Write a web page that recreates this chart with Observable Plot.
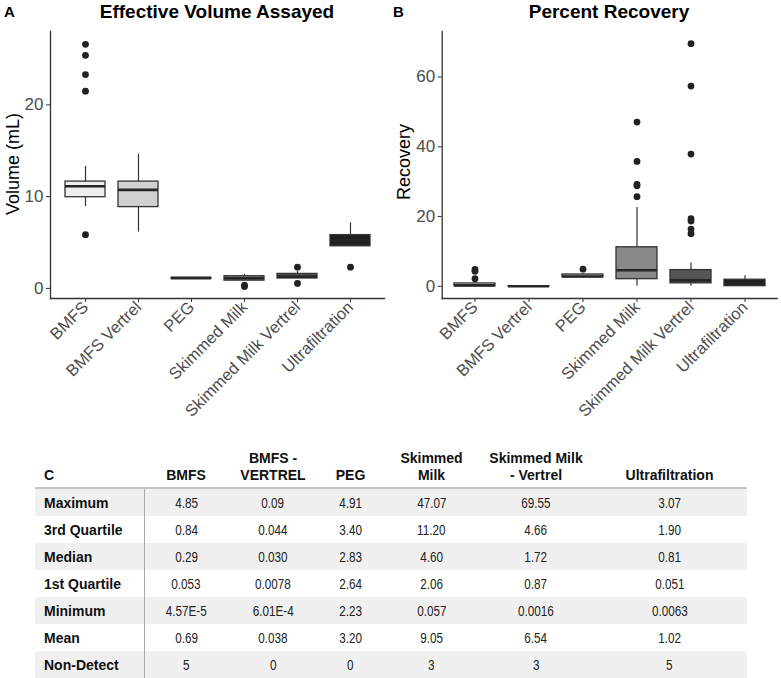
<!DOCTYPE html>
<html>
<head>
<meta charset="utf-8">
<script src="https://cdn.jsdelivr.net/npm/d3@7"></script>
<script src="https://cdn.jsdelivr.net/npm/@observablehq/plot@0.6"></script>
<style>
  body { margin: 0; background: #fff; font-family: "Liberation Sans", Arial, sans-serif; }
  #wrap { position: relative; width: 781px; height: 678px; overflow: hidden; }
  .abs { position: absolute; white-space: nowrap; }
  .ptitle { font-weight: bold; font-size: 19px; color: #000; transform: translateX(-50%); }
  .letter { font-weight: bold; font-size: 15px; color: #000; }
  .ytitle { font-size: 18px; color: #000; transform: translate(-50%, -50%) rotate(-90deg); }
  table { border-collapse: collapse; position: absolute; left: 35px; top: 445px; table-layout: fixed; }
  th { font-weight: bold; font-size: 14px; color: #111; vertical-align: bottom; text-align: center;
       line-height: 17px; padding: 0 0 3px 0; border-bottom: 2px solid #c4c4c4; height: 39px; }
  th.first { text-align: left; padding-left: 9px; }
  td { height: 27px; padding: 0; text-align: center; font-size: 15px; color: #222; }
  td.lab { text-align: left; padding-left: 9px; font-weight: bold; font-size: 14px; color: #111; border-right: 1px solid #a8a8a8; }
  tr.shade td { background: #f0f0f0; }
  .nar { display: inline-block; transform: scaleX(0.78); }
</style>
</head>
<body>
<div id="wrap"></div>
<script>
// ---------- data ----------
const categories = ["BMFS", "BMFS Vertrel", "PEG", "Skimmed Milk", "Skimmed Milk Vertrel", "Ultrafiltration"];
const fills = ["#efefef", "#d0d0d0", "#ababab", "#888888", "#555555", "#1f1f1f"];

// Panel A: Effective Volume Assayed (mL)
const volQ1     = [9.94, 8.86, 1.08, 0.85, 1.08, 4.59];
const volMedian = [11.13, 10.74, 1.12, 1.10, 1.30, 5.24];
const volQ3     = [11.64, 11.64, 1.16, 1.33, 1.58, 5.81];
const volLow    = [8.93, 6.14, 1.08, 0.85, 1.08, 4.59];
const volHigh   = [13.3, 14.64, 1.16, 1.52, 1.85, 7.16];
const volOutliers = [
  ["BMFS", 26.6], ["BMFS", 25.4], ["BMFS", 23.3], ["BMFS", 21.5], ["BMFS", 5.86],
  ["Skimmed Milk", 0.35], ["Skimmed Milk", 0.2],
  ["Skimmed Milk Vertrel", 2.31], ["Skimmed Milk Vertrel", 0.54],
  ["Ultrafiltration", 2.31]
];

// Panel B: Percent Recovery
const recQ1     = [0.053, 0.0078, 2.64, 2.06, 0.87, 0.051];
const recMedian = [0.29, 0.030, 2.83, 4.60, 1.72, 0.81];
const recQ3     = [0.84, 0.044, 3.40, 11.20, 4.66, 1.90];
const recLow    = [0.0000457, 0.000601, 2.23, 0.057, 0.0016, 0.0063];
const recHigh   = [1.5, 0.09, 3.6, 22.6, 6.7, 3.07];
const recOutliers = [
  ["BMFS", 4.85], ["BMFS", 4.3], ["BMFS", 2.2],
  ["PEG", 4.91],
  ["Skimmed Milk", 47.07], ["Skimmed Milk", 35.8], ["Skimmed Milk", 29.2], ["Skimmed Milk", 28.8], ["Skimmed Milk", 25.7],
  ["Skimmed Milk Vertrel", 69.55], ["Skimmed Milk Vertrel", 57.4], ["Skimmed Milk Vertrel", 37.9],
  ["Skimmed Milk Vertrel", 19.4], ["Skimmed Milk Vertrel", 18.7], ["Skimmed Milk Vertrel", 16.4], ["Skimmed Milk Vertrel", 15.1]
];

// Panel C: summary table
const tableHeaderLines = [["BMFS"], ["BMFS -", "VERTREL"], ["PEG"], ["Skimmed", "Milk"], ["Skimmed Milk", "- Vertrel"], ["Ultrafiltration"]];
const tableRowLabels = ["Maximum", "3rd Quartile", "Median", "1st Quartile", "Minimum", "Mean", "Non-Detect"];
const rowMaximum   = ["4.85", "0.09", "4.91", "47.07", "69.55", "3.07"];
const row3rdQ      = ["0.84", "0.044", "3.40", "11.20", "4.66", "1.90"];
const rowMedian    = ["0.29", "0.030", "2.83", "4.60", "1.72", "0.81"];
const row1stQ      = ["0.053", "0.0078", "2.64", "2.06", "0.87", "0.051"];
const rowMinimum   = ["4.57E-5", "6.01E-4", "2.23", "0.057", "0.0016", "0.0063"];
const rowMean      = ["0.69", "0.038", "3.20", "9.05", "6.54", "1.02"];
const rowNonDetect = ["5", "0", "0", "3", "3", "5"];

// ---------- build ----------
function summary(q1, med, q3, lo, hi) {
  return categories.map((c, i) => ({cat: c, q1: q1[i], med: med[i], q3: q3[i], lo: lo[i], hi: hi[i]}));
}

function boxPanel({rows, outliers, yDomain, yTicks, marginLeft, marginRight, width}) {
  const out = outliers.map(([cat, v]) => ({cat, v}));
  return Plot.plot({
    width, height: 440,
    marginTop: 31, marginBottom: 142, marginLeft, marginRight,
    style: {fontFamily: "'Liberation Sans', Arial, sans-serif", background: "transparent", color: "#333"},
    x: {domain: categories, paddingInner: 0.25, paddingOuter: 0.225, label: null},
    y: {domain: yDomain, label: null},
    color: {domain: categories, range: fills},
    marks: [
      Plot.frame({anchor: "left", stroke: "#333", strokeWidth: 1.3}),
      Plot.frame({anchor: "bottom", stroke: "#333", strokeWidth: 1.3}),
      Plot.axisY({ticks: yTicks, tickSize: 4, tickPadding: 3, fontSize: 17, fill: "#4d4d4d", stroke: "#333", label: null}),
      Plot.axisX({tickSize: 4, tickPadding: 2, tickRotate: -45, fontSize: 16.5, fill: "#4d4d4d", stroke: "#333", label: null}),
      Plot.ruleX(rows, {x: "cat", y1: "lo", y2: "hi", stroke: "#333", strokeWidth: 1.2}),
      Plot.barY(rows, {x: "cat", y1: "q1", y2: "q3", fill: "cat", stroke: "#333", strokeWidth: 1.3}),
      Plot.tickY(rows, {x: "cat", y: "med", stroke: "#262626", strokeWidth: 2.6}),
      Plot.dot(out, {x: "cat", y: "v", r: 3.4, fill: "#222", stroke: "none"})
    ]
  });
}

const wrap = document.getElementById("wrap");

const plotA = boxPanel({
  rows: summary(volQ1, volMedian, volQ3, volLow, volHigh),
  outliers: volOutliers, yDomain: [-1.1, 28.0], yTicks: [0, 10, 20],
  marginLeft: 50, marginRight: 6, width: 390
});
plotA.style.position = "absolute"; plotA.style.left = "0px"; plotA.style.top = "0px";
wrap.appendChild(plotA);

const plotB = boxPanel({
  rows: summary(recQ1, recMedian, recQ3, recLow, recHigh),
  outliers: recOutliers, yDomain: [-3.48, 73.03], yTicks: [0, 20, 40, 60],
  marginLeft: 51.7, marginRight: 4.3, width: 391
});
plotB.style.position = "absolute"; plotB.style.left = "390px"; plotB.style.top = "0px";
wrap.appendChild(plotB);

function addText(cls, text, left, top) {
  const d = document.createElement("div");
  d.className = "abs " + cls;
  d.textContent = text;
  d.style.left = left + "px"; d.style.top = top + "px";
  wrap.appendChild(d);
  return d;
}
addText("letter", "A", 4, 3);
addText("letter", "B", 393, 3);
addText("ptitle", "Effective Volume Assayed", 217, 1);
addText("ptitle", "Percent Recovery", 609, 1);
addText("ytitle", "Volume (mL)", 13, 164);
addText("ytitle", "Recovery", 404, 162);

// table
const colWidths = [109, 84, 90, 65, 97, 112, 155];
const tbl = document.createElement("table");
const cg = document.createElement("colgroup");
colWidths.forEach(w => { const c = document.createElement("col"); c.style.width = w + "px"; cg.appendChild(c); });
tbl.appendChild(cg);
const thead = document.createElement("thead");
const hr = document.createElement("tr");
const th0 = document.createElement("th"); th0.className = "first"; th0.textContent = "C"; hr.appendChild(th0);
tableHeaderLines.forEach(lines => {
  const th = document.createElement("th");
  lines.forEach((ln, i) => { if (i) th.appendChild(document.createElement("br")); th.appendChild(document.createTextNode(ln)); });
  hr.appendChild(th);
});
thead.appendChild(hr); tbl.appendChild(thead);
const tbody = document.createElement("tbody");
const tableRows = [rowMaximum, row3rdQ, rowMedian, row1stQ, rowMinimum, rowMean, rowNonDetect];
tableRows.forEach((vals, r) => {
  const tr = document.createElement("tr");
  if (r % 2 === 0) tr.className = "shade";
  const td0 = document.createElement("td"); td0.className = "lab"; td0.textContent = tableRowLabels[r]; tr.appendChild(td0);
  vals.forEach(v => {
    const td = document.createElement("td");
    const s = document.createElement("span"); s.className = "nar"; s.textContent = v;
    td.appendChild(s); tr.appendChild(td);
  });
  tbody.appendChild(tr);
});
tbl.appendChild(tbody);
wrap.appendChild(tbl);
</script>
</body>
</html>
